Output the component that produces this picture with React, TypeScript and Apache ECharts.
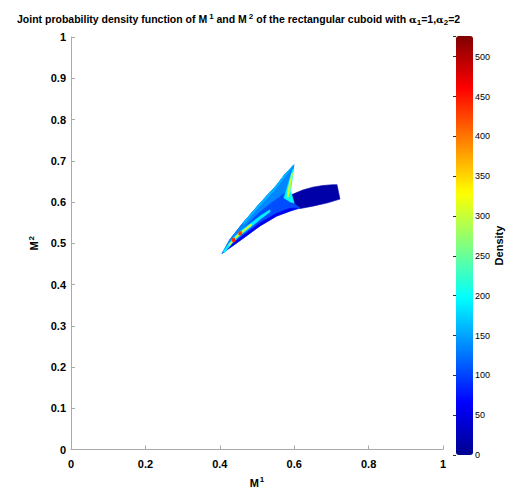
import React, { useEffect, useRef } from "react";
import * as echarts from "echarts";

// Axis ranges / ticks
const xRange = [0, 1];
const yRange = [0, 1];
const densityRange = [0, 526];

// Regions of the joint density (M1, M2) with their density level
const wingOutline: number[][] = [
  [0.406, 0.475], [0.427, 0.509], [0.462, 0.549], [0.508, 0.597], [0.553, 0.641],
  [0.575, 0.667], [0.599, 0.690], [0.596, 0.675], [0.588, 0.650], [0.582, 0.625],
  [0.580, 0.605], [0.600, 0.596], [0.616, 0.585], [0.589, 0.578], [0.553, 0.566],
  [0.508, 0.542], [0.472, 0.518], [0.435, 0.494],
];
const blobOutline: number[][] = [
  [0.578, 0.604], [0.594, 0.618], [0.623, 0.629], [0.650, 0.636], [0.677, 0.640],
  [0.704, 0.642], [0.715, 0.642], [0.723, 0.607], [0.690, 0.598], [0.650, 0.590],
  [0.616, 0.584], [0.595, 0.588],
];
const lowerEdgeBand: number[][] = [
  [0.420, 0.485], [0.435, 0.494], [0.472, 0.518], [0.508, 0.542], [0.553, 0.566],
  [0.589, 0.578], [0.610, 0.585], [0.589, 0.585], [0.553, 0.573], [0.508, 0.549],
  [0.472, 0.525], [0.435, 0.500],
];
const upperEdgeBand: number[][] = [
  [0.406, 0.475], [0.427, 0.509], [0.462, 0.549], [0.508, 0.597], [0.553, 0.641],
  [0.575, 0.667], [0.599, 0.690], [0.596, 0.675], [0.588, 0.650], [0.582, 0.625],
  [0.570, 0.620], [0.540, 0.600], [0.505, 0.575], [0.470, 0.543], [0.440, 0.512],
  [0.415, 0.485],
];
const upperEdgeStrip: number[][] = [
  [0.462, 0.549], [0.508, 0.597], [0.553, 0.641], [0.575, 0.667], [0.599, 0.690],
  [0.570, 0.655], [0.548, 0.630], [0.505, 0.588], [0.465, 0.546],
];
const junctionPatch: number[][] = [
  [0.596, 0.678], [0.586, 0.650], [0.578, 0.625], [0.572, 0.610], [0.590, 0.600],
  [0.600, 0.597], [0.590, 0.628], [0.594, 0.650], [0.598, 0.680],
];
const spikeStreak: number[][] = [
  [0.594, 0.670], [0.588, 0.650], [0.583, 0.627], [0.581, 0.612], [0.585, 0.612],
  [0.588, 0.628], [0.592, 0.650], [0.596, 0.670],
];
const ridgeSurround: number[][] = [
  [0.410, 0.481], [0.435, 0.512], [0.455, 0.529], [0.475, 0.543], [0.510, 0.567],
  [0.535, 0.581], [0.535, 0.576], [0.510, 0.559], [0.475, 0.533], [0.455, 0.519],
  [0.435, 0.502], [0.412, 0.477],
];
const ridgeCore: number[][] = [
  [0.425, 0.497], [0.445, 0.518], [0.465, 0.533], [0.485, 0.547],
  [0.485, 0.543], [0.465, 0.529], [0.445, 0.514], [0.425, 0.493],
];
const hotSpotA: number[][] = [[0.433, 0.504], [0.441, 0.504], [0.441, 0.512], [0.433, 0.512]];
const hotSpotB: number[][] = [[0.451, 0.520], [0.459, 0.520], [0.459, 0.528], [0.451, 0.528]];

const regionPoints = [
  blobOutline, wingOutline, lowerEdgeBand, upperEdgeBand, upperEdgeStrip,
  junctionPatch, spikeStreak, ridgeSurround, ridgeCore, hotSpotA, hotSpotB,
];
const regionDensity = [15, 105, 55, 135, 160, 195, 310, 190, 320, 440, 430];

const jet = [
  "#00008f", "#0000ff", "#0080ff", "#00ffff", "#80ff80",
  "#ffff00", "#ff8000", "#ff0000", "#800000",
];

const FONT = "Liberation Sans, Arial, Helvetica, sans-serif";

export default function App() {
  const ref = useRef<HTMLDivElement>(null);
  useEffect(() => {
    if (!ref.current) return;
    const chart = echarts.init(ref.current, null, { renderer: "svg" });
    const data = regionPoints.map((pts, i) => [pts[0][0], pts[0][1], regionDensity[i]]);
    chart.setOption({
      animation: false,
      backgroundColor: "#fff",
      title: {
        left: 12,
        top: 7,
        text:
          "Joint probability density function of M{sup|1} and M{sup|2} of the rectangular cuboid with {g|α}{sub|1}=1,{g|α}{sub|2}=2",
        textStyle: {
          fontFamily: FONT,
          fontWeight: "bold",
          fontSize: 10.5,
          color: "#000",
          rich: {
            sup: { fontFamily: FONT, fontWeight: "bold", fontSize: 8, verticalAlign: "top", padding: [0, 0, 6, 2] },
            sub: { fontFamily: FONT, fontWeight: "bold", fontSize: 8, padding: [6, 0, 0, 0] },
            g: { fontFamily: "DejaVu Serif, serif", fontSize: 10, padding: [0, 0, 0, 0] },
          },
        },
      },
      grid: [
        { left: 71, top: 37, width: 372, height: 417 },
        { left: 456, top: 36, width: 17, height: 419 },
      ],
      xAxis: [
        {
          gridIndex: 0,
          type: "value",
          min: xRange[0],
          max: xRange[1],
          interval: 0.2,
          splitLine: { show: false },
          axisLine: { lineStyle: { color: "#aaa" } },
          axisTick: { inside: true, length: 4, lineStyle: { color: "#aaa" } },
          axisLabel: { fontFamily: FONT, fontWeight: "bold", fontSize: 11, color: "#000", margin: 9 },
          name: "M{sup|1}",
          nameLocation: "middle",
          nameGap: 26,
          nameTextStyle: {
            fontFamily: FONT,
            fontWeight: "bold",
            fontSize: 11,
            color: "#000",
            rich: { sup: { fontFamily: FONT, fontWeight: "bold", fontSize: 8, padding: [0, 0, 6, 1] } },
          },
        },
        { gridIndex: 1, type: "value", show: false, min: 0, max: 1 },
      ],
      yAxis: [
        {
          gridIndex: 0,
          type: "value",
          min: yRange[0],
          max: yRange[1],
          interval: 0.1,
          splitLine: { show: false },
          axisLine: { lineStyle: { color: "#aaa" } },
          axisTick: { inside: true, length: 4, lineStyle: { color: "#aaa" } },
          axisLabel: { fontFamily: FONT, fontWeight: "bold", fontSize: 11, color: "#000", margin: 5 },
          name: "M{sup|2}",
          nameLocation: "middle",
          nameGap: 29,
          nameRotate: 90,
          nameTextStyle: {
            fontFamily: FONT,
            fontWeight: "bold",
            fontSize: 11,
            color: "#000",
            rich: { sup: { fontFamily: FONT, fontWeight: "bold", fontSize: 8, padding: [0, 0, 6, 1] } },
          },
        },
        {
          gridIndex: 1,
          type: "value",
          position: "right",
          min: densityRange[0],
          max: densityRange[1],
          interval: 50,
          splitLine: { show: false },
          axisLine: { show: false },
          axisTick: { inside: true, length: 3, lineStyle: { color: "#333" } },
          axisLabel: {
            fontFamily: FONT,
            fontSize: 9,
            color: "#000",
            margin: 2,
            formatter: (v: number) => (v % 50 === 0 ? String(v) : ""),
          },
          name: "Density",
          nameLocation: "middle",
          nameGap: 20,
          nameRotate: 90,
          nameTextStyle: { fontFamily: FONT, fontWeight: "bold", fontSize: 11, color: "#000" },
        },
      ],
      visualMap: {
        type: "continuous",
        min: densityRange[0],
        max: densityRange[1],
        dimension: 2,
        seriesIndex: 0,
        calculable: false,
        hoverLink: false,
        left: 456,
        top: 36,
        padding: 0,
        itemWidth: 17,
        itemHeight: 419,
        inRange: { color: jet },
        textStyle: { fontSize: 0 },
      },
      series: [
        {
          type: "custom",
          xAxisIndex: 0,
          yAxisIndex: 0,
          data,
          renderItem: (params: any, api: any) => {
            const pts = regionPoints[params.dataIndex].map((p) => api.coord(p));
            const c = api.visual("color");
            return {
              type: "polygon",
              shape: { points: pts },
              style: { fill: c, stroke: c, lineWidth: 0.6 },
            };
          },
        },
      ],
    });
    return () => chart.dispose();
  }, []);
  return <div ref={ref} style={{ width: 521, height: 493, position: "absolute", left: 0, top: 0 }} />;
}
